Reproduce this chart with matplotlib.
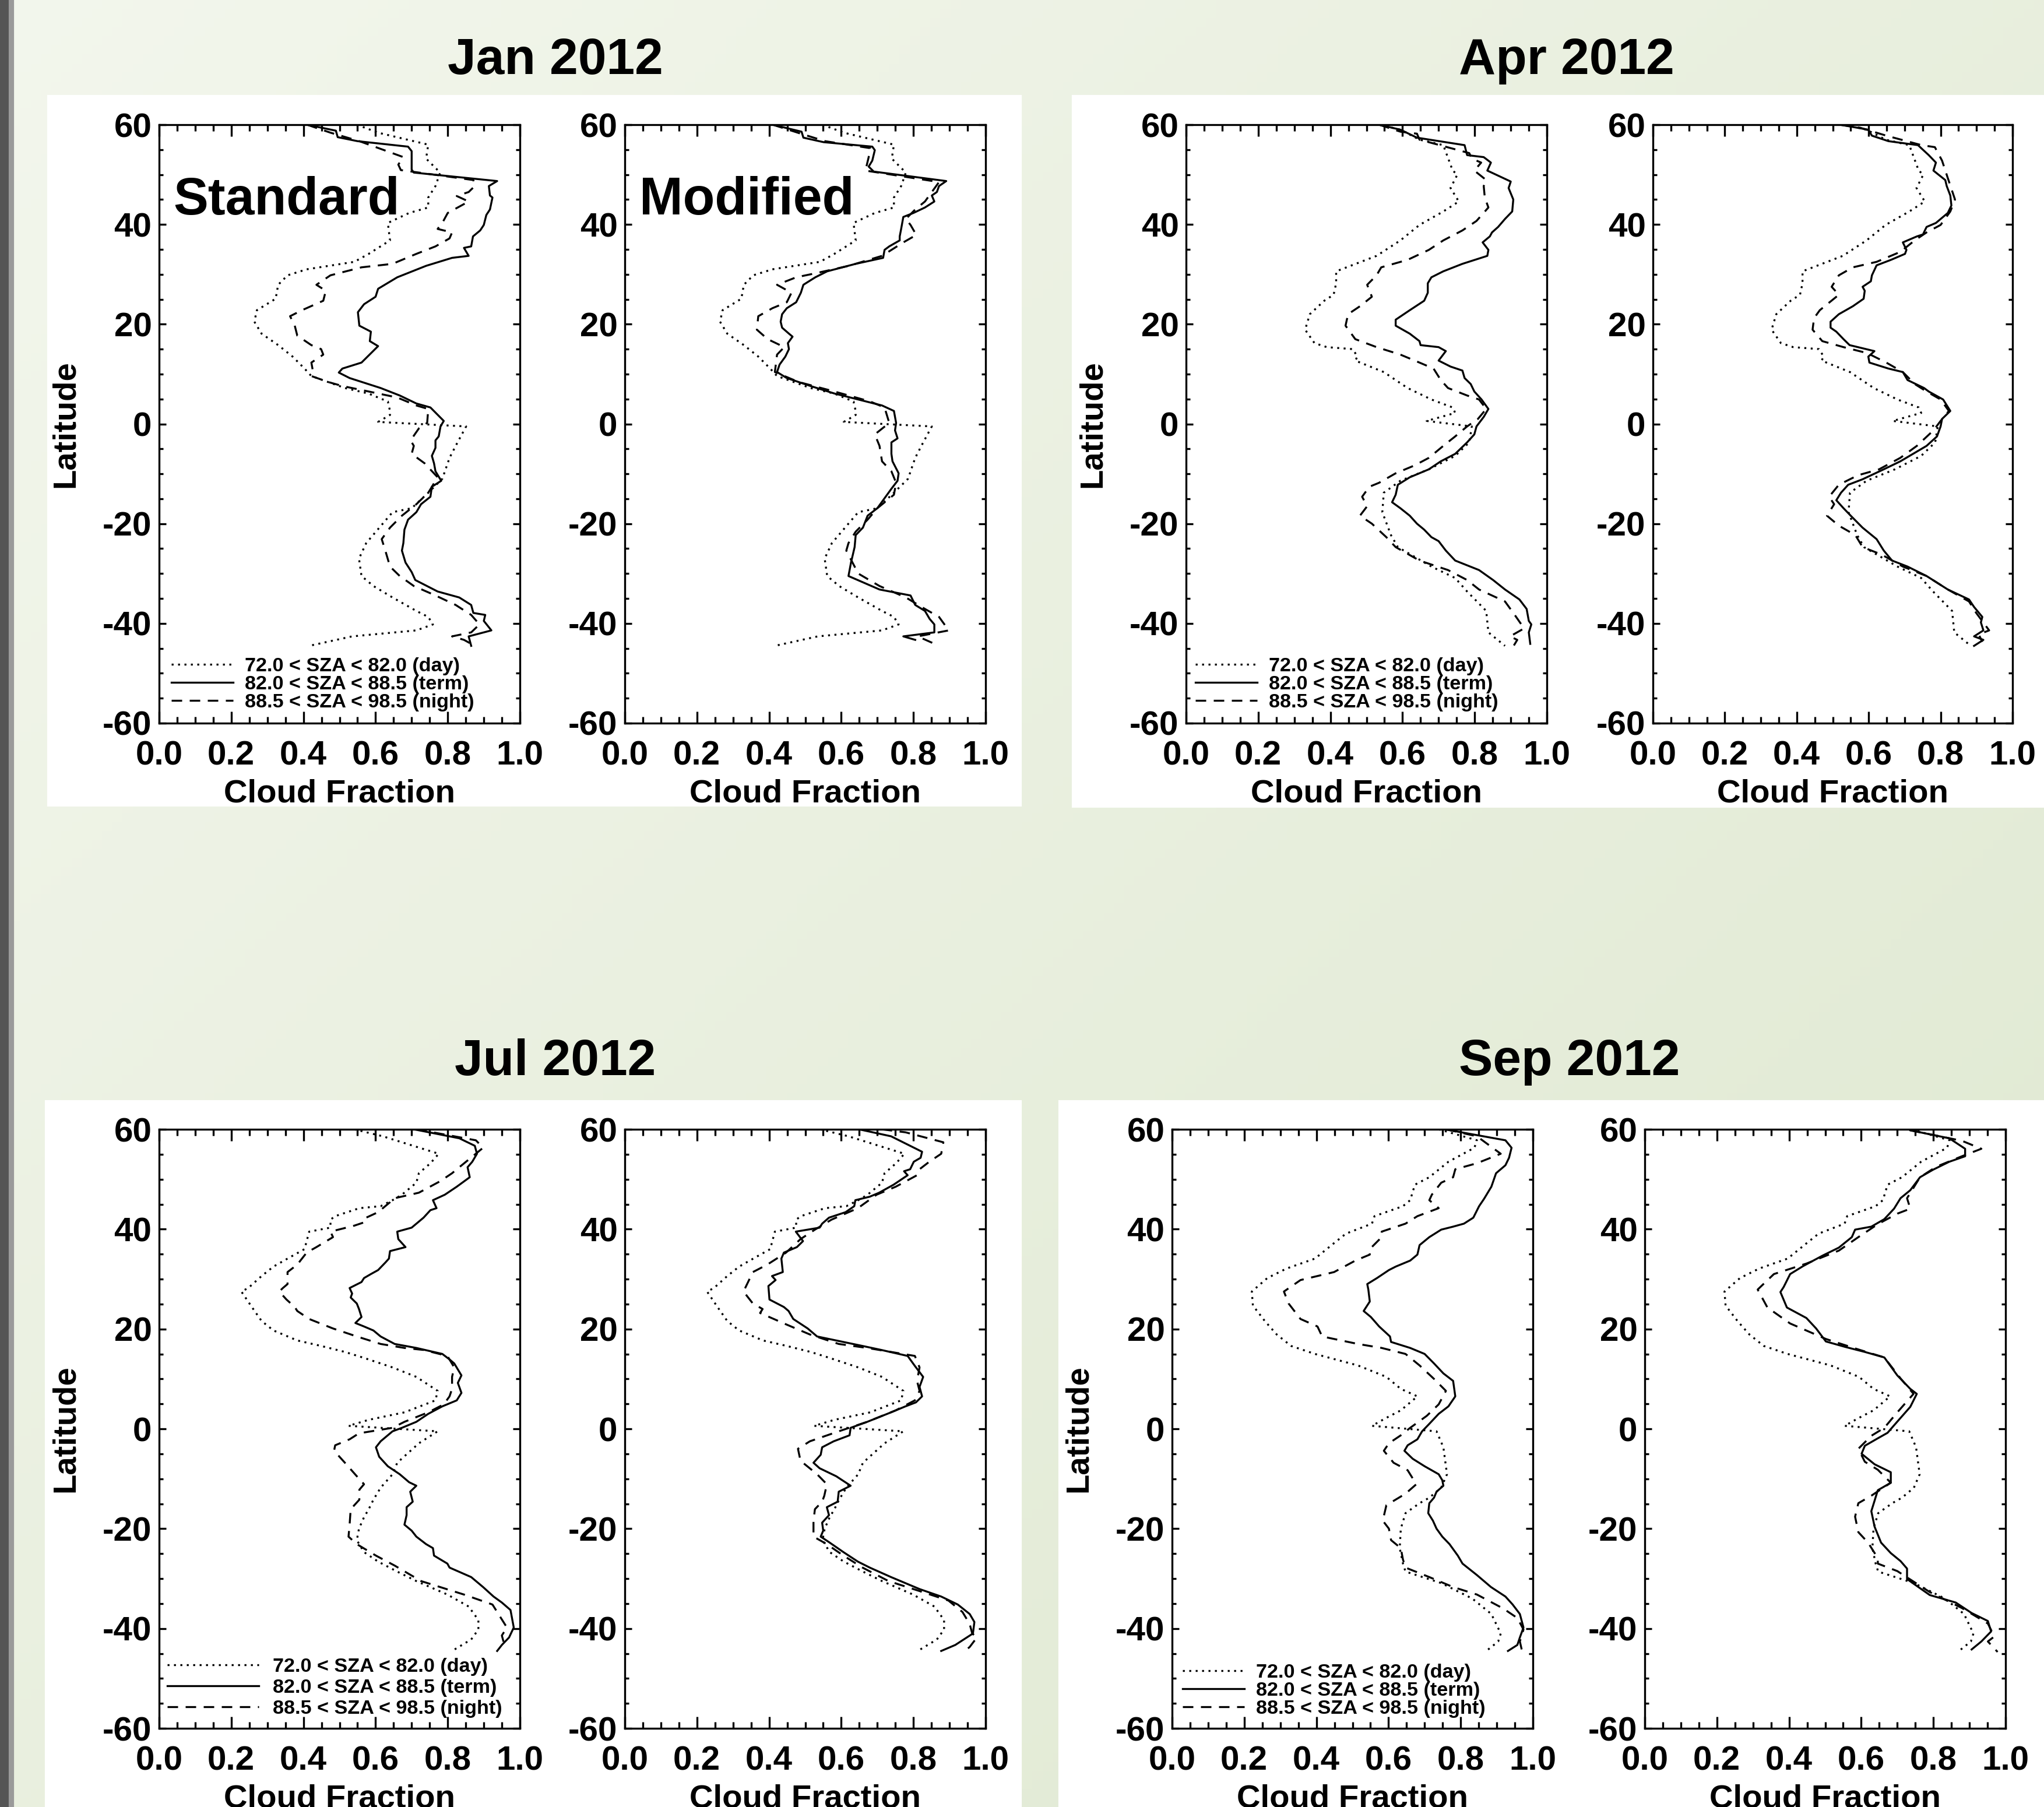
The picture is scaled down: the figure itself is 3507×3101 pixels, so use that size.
import numpy as np
import matplotlib
matplotlib.use('Agg')
import matplotlib.pyplot as plt
from matplotlib.patches import Rectangle
from matplotlib.lines import Line2D
from matplotlib.ticker import MultipleLocator, FormatStrFormatter

# ---------------- DATA (latitude, cloud fraction) ----------------
series_labels = ["72.0 < SZA < 82.0 (day)", "82.0 < SZA < 88.5 (term)", "88.5 < SZA < 98.5 (night)"]
x_ticks = [0.0, 0.2, 0.4, 0.6, 0.8, 1.0]
y_ticks = [-60, -40, -20, 0, 20, 40, 60]
months = ["Jan 2012", "Apr 2012", "Jul 2012", "Sep 2012"]
algo_labels = ["Standard", "Modified"]

# ---- January ----
jan_day_lat = [60, 58.4, 56, 53.2, 50.4, 47.7, 45.4, 43.4, 42.3, 40.3, 36.8, 34.1, 32.5, 31, 29.8, 27.9, 25.1, 22.8, 20.5, 18.1,
               15.8, 13.5, 11.1, 9.6, 7.2, 6.1, 4.5, 2.6, 1.8, 0.4, -0.5, -4.0, -6.8, -11, -13.8, -16.9, -17.7, -21.6, -23.9, -27,
               -30.5, -32.5, -34.8, -37.5, -38.7, -40.2, -41.4, -42.6, -44.5]
jan_day_cf = [0.548, 0.607, 0.746, 0.74, 0.779, 0.766, 0.746, 0.746, 0.693, 0.634, 0.64, 0.581, 0.541, 0.409, 0.356, 0.33, 0.323, 0.271, 0.264, 0.284,
              0.33, 0.37, 0.403, 0.422, 0.515, 0.58, 0.634, 0.64, 0.64, 0.607, 0.851, 0.825, 0.805, 0.785, 0.746, 0.70, 0.647, 0.601, 0.574, 0.554,
              0.561, 0.594, 0.647, 0.713, 0.746, 0.759, 0.713, 0.535, 0.416]

jan_std_term_lat = [60, 58.8, 57.5, 56.7, 55.6, 54.7, 51, 50.4, 48.7, 47.7, 45.8, 45.4, 43, 41.9, 39.9, 38.8, 37.6, 35.6, 35.3, 33.7,
                    33.3, 31.7, 29.4, 27.1, 25.5, 24, 22.4, 19.7, 18.5, 16.6, 15.6, 12.3, 11.1, 10.3, 9.2, 7.2, 5.7, 4.1, 3.3, 0.6,
                    -0.5, -2.5, -3.3, -4.8, -6.4, -7.9, -9.5, -11.4, -12.6, -14.6, -16.1, -17.7, -19.2, -21.2, -23.9, -25.4, -27.8, -29.7, -31.3, -33.6,
                    -34.8, -36.3, -37.9, -38.3, -39.5, -41.4, -42.6, -44.5]
jan_std_term_cf = [0.41, 0.49, 0.495, 0.55, 0.69, 0.70, 0.70, 0.706, 0.937, 0.914, 0.917, 0.924, 0.917, 0.907, 0.90, 0.89, 0.87, 0.865, 0.845, 0.858,
                   0.812, 0.74, 0.66, 0.607, 0.60, 0.568, 0.551, 0.555, 0.587, 0.584, 0.607, 0.561, 0.508, 0.498, 0.528, 0.614, 0.667, 0.713, 0.752, 0.789,
                   0.78, 0.775, 0.766, 0.766, 0.756, 0.762, 0.766, 0.782, 0.756, 0.752, 0.726, 0.713, 0.69, 0.68, 0.677, 0.673, 0.683, 0.70, 0.71, 0.772,
                   0.832, 0.865, 0.871, 0.904, 0.90, 0.921, 0.858, 0.865]

jan_std_night_lat = [60, 58.4, 56.7, 53.5, 52, 50.9, 48.9, 47.7, 46.5, 45.7, 44.6, 42.3, 40.3, 39.1, 38.4, 37.2, 35.6, 34.1, 32.1, 31.4,
                     29.8, 27.9, 26.7, 24.7, 22.8, 21.6, 19.7, 17.7, 15.8, 15, 13.9, 12.3, 10.7, 9.6, 8.4, 7.6, 6.5, 5.3, 3.7, 3.0,
                     0.2, -0.9, -3.3, -4.4, -6.0, -7.9, -10.7, -13.8, -16.1, -18.4, -20.8, -23.1, -25.4, -28.6, -30.5, -32.5, -34.4, -36.3, -38.3, -40.2,
                     -41.8, -42.6, -43.3, -44.1]
jan_std_night_cf = [0.41, 0.475, 0.555, 0.677, 0.663, 0.67, 0.871, 0.875, 0.858, 0.825, 0.858, 0.80, 0.785, 0.772, 0.812, 0.805, 0.766, 0.713, 0.647, 0.561,
                    0.475, 0.436, 0.462, 0.455, 0.396, 0.363, 0.376, 0.383, 0.422, 0.449, 0.455, 0.422, 0.426, 0.422, 0.469, 0.508, 0.581, 0.66, 0.713, 0.746,
                    0.743, 0.72, 0.697, 0.706, 0.70, 0.736, 0.772, 0.746, 0.713, 0.673, 0.64, 0.617, 0.627, 0.64, 0.667, 0.706, 0.766, 0.822, 0.865, 0.888,
                    0.865, 0.812, 0.845, 0.865]

jan_mod_term_lat = [60, 58.6, 57.4, 56.5, 55.6, 54.9, 52.8, 51.6, 50.6, 48.7, 47.7, 46.5, 45.8, 44.6, 43.4, 42.3, 41.5, 39.1, 37.6, 36.8,
                    35.6, 34.9, 33.3, 32.1, 30.6, 29.4, 27.9, 26.3, 24.4, 23.2, 22, 20.5, 19.3, 18.1, 17.5, 16.2, 15, 13.5, 11.9, 10.4,
                    9.2, 7.6, 6.1, 4.9, 3.7, 2.6, 0.2, -1.3, -2.9, -3.7, -6.0, -7.5, -9.9, -11.4, -13.0, -14.9, -16.9, -18.4, -20.8, -22.3,
                    -24.7, -27.8, -30.5, -33.2, -34.4, -36.3, -37.5, -39.1, -40.2, -41.8, -42.6, -43.3]
jan_mod_term_cf = [0.41, 0.49, 0.495, 0.551, 0.686, 0.693, 0.686, 0.676, 0.69, 0.891, 0.871, 0.865, 0.851, 0.858, 0.832, 0.80, 0.772, 0.766, 0.762, 0.762,
                   0.733, 0.72, 0.716, 0.64, 0.561, 0.528, 0.495, 0.488, 0.475, 0.449, 0.436, 0.432, 0.436, 0.455, 0.465, 0.452, 0.455, 0.445, 0.429, 0.422,
                   0.449, 0.515, 0.581, 0.647, 0.713, 0.746, 0.752, 0.749, 0.756, 0.739, 0.739, 0.742, 0.759, 0.756, 0.739, 0.72, 0.70, 0.673, 0.66, 0.64,
                   0.637, 0.627, 0.62, 0.706, 0.792, 0.805, 0.832, 0.845, 0.858, 0.858, 0.772, 0.805]

jan_mod_night_lat = [60, 58.2, 56.7, 55.3, 53.5, 50.8, 48.5, 46.5, 44.6, 43.0, 41.1, 39.9, 37.9, 36.4, 33.7, 31.7, 30.2, 29.4, 27.9, 26.3,
                     24.4, 23.2, 21.6, 18.9, 17.0, 15.4, 13.9, 10.4, 8.4, 6.5, 4.5, 3.3, 0.2, -2.1, -4.4, -7.5, -9.5, -11.8, -14.2, -16.9,
                     -19.2, -21.6, -23.9, -25.4, -30.0, -32.5, -34.8, -37.1, -38.7, -41.4, -42.6, -44.5]
jan_mod_night_cf = [0.41, 0.488, 0.555, 0.68, 0.676, 0.667, 0.871, 0.851, 0.832, 0.805, 0.779, 0.792, 0.808, 0.772, 0.713, 0.621, 0.528, 0.475, 0.422, 0.462,
                    0.449, 0.409, 0.37, 0.366, 0.396, 0.442, 0.422, 0.416, 0.482, 0.581, 0.68, 0.72, 0.733, 0.693, 0.706, 0.713, 0.739, 0.752, 0.746, 0.70,
                    0.673, 0.64, 0.62, 0.614, 0.647, 0.706, 0.779, 0.832, 0.871, 0.898, 0.812, 0.871]

# ---- April ----
apr_day_lat = [60, 59, 57, 55.9, 50.8, 50, 47.3, 44.6, 42.6, 39.9, 36.8, 33.7, 30.6, 28.2, 25.9, 24.7, 22.0, 18.9, 16.2, 15.4,
               15.0, 13.5, 12.7, 10.4, 7.2, 4.9, 3.3, 2.2, 0.6, -0.5, -3.7, -6.4, -9.1, -11.4, -13.8, -17.7, -22.3, -24.7, -28.6, -30.9,
               -33.6, -37.5, -41.8, -44.5]
apr_day_cf = [0.535, 0.594, 0.647, 0.713, 0.739, 0.752, 0.733, 0.756, 0.713, 0.647, 0.594, 0.528, 0.416, 0.416, 0.409, 0.383, 0.343, 0.33, 0.356, 0.39,
              0.462, 0.475, 0.469, 0.548, 0.614, 0.68, 0.739, 0.746, 0.667, 0.792, 0.785, 0.746, 0.673, 0.594, 0.548, 0.544, 0.568, 0.587, 0.68, 0.746,
              0.779, 0.832, 0.838, 0.884]

apr_std_term_lat = [60, 59, 57.4, 55.9, 53.9, 53.5, 52.4, 50.8, 48.6, 47.3, 45, 42.6, 41.1, 39.5, 38.4, 37.6, 36.4, 34.9, 33.7, 32.1,
                    30.6, 29.4, 28.2, 26.3, 24.7, 22.8, 20.9, 19.7, 18.1, 16.6, 15.8, 15.4, 14.6, 12.7, 11.5, 10.7, 9.2, 8.0, 6.5, 4.9,
                    3.0, 1.4, -0.5, -2.1, -3.7, -6.0, -7.5, -9.1, -10.7, -12.2, -14.2, -15.7, -16.9, -18.4, -20, -21.2, -22.7, -23.5, -25.4, -27.4,
                    -29.3, -31.3, -33.2, -35.2, -37.1, -39.5, -40.2, -41.8, -44.1]
apr_std_term_cf = [0.535, 0.594, 0.64, 0.772, 0.779, 0.825, 0.845, 0.835, 0.90, 0.894, 0.907, 0.904, 0.884, 0.865, 0.848, 0.842, 0.822, 0.838, 0.835, 0.766,
                   0.713, 0.68, 0.67, 0.67, 0.66, 0.62, 0.581, 0.581, 0.62, 0.647, 0.65, 0.70, 0.72, 0.70, 0.733, 0.766, 0.772, 0.789, 0.799, 0.819,
                   0.838, 0.825, 0.805, 0.799, 0.779, 0.746, 0.706, 0.673, 0.62, 0.587, 0.581, 0.571, 0.594, 0.62, 0.64, 0.66, 0.68, 0.70, 0.72, 0.746,
                   0.812, 0.851, 0.884, 0.924, 0.944, 0.95, 0.957, 0.95, 0.954]

apr_std_night_lat = [60, 58.6, 58.2, 57, 54.3, 53.2, 52.4, 50.8, 48.9, 47.7, 45.4, 43.4, 40.7, 38.8, 36.8, 34.9, 32.9, 31.4, 29.8, 27.9,
                     25.5, 23.6, 22.0, 19.7, 17.0, 15.4, 13.9, 12.3, 11.1, 8.8, 7.2, 5.7, 4.9, 3.0, 1.0, -0.5, -2.5, -4.4, -6.8, -8.3,
                     -9.9, -11.8, -12.6, -14.6, -16.5, -18.4, -20.0, -22.7, -24.7, -27.4, -29.3, -31.3, -33.2, -35.6, -38.3, -41.0, -42.6, -43.3, -44.5]
apr_std_night_cf = [0.535, 0.594, 0.64, 0.647, 0.785, 0.792, 0.818, 0.799, 0.832, 0.825, 0.828, 0.838, 0.805, 0.766, 0.713, 0.673, 0.614, 0.541, 0.528, 0.502,
                    0.515, 0.482, 0.449, 0.442, 0.469, 0.528, 0.594, 0.647, 0.686, 0.706, 0.726, 0.779, 0.812, 0.832, 0.809, 0.779, 0.746, 0.713, 0.673, 0.634,
                    0.581, 0.535, 0.508, 0.488, 0.502, 0.482, 0.515, 0.555, 0.581, 0.647, 0.726, 0.779, 0.812, 0.884, 0.911, 0.937, 0.898, 0.918, 0.908]

apr_mod_term_lat = [60, 59, 57.8, 56.7, 55.9, 53.9, 52.4, 50.8, 48.9, 47.7, 45.8, 43.8, 42.3, 40.3, 39.5, 38.0, 37.6, 36.4, 34.9, 34.1,
                    32.9, 31.8, 29.8, 28.6, 27.5, 26.7, 25.1, 23.6, 22.0, 20.5, 19.3, 18.5, 17.0, 15.8, 14.6, 13.5, 12.3, 11.1, 10.4, 8.8,
                    7.2, 6.5, 4.9, 2.6, 1.0, -0.5, -2.5, -4.4, -7.5, -9.1, -11.1, -12.2, -13.8, -15.3, -16.9, -18.4, -20.8, -23.1, -25.4, -27.4,
                    -28.6, -30.5, -33.2, -35.2, -36.7, -38.7, -39.8, -41.4, -42.6, -43.3, -44.5]
apr_mod_term_cf = [0.52, 0.599, 0.609, 0.655, 0.737, 0.767, 0.787, 0.78, 0.813, 0.817, 0.827, 0.83, 0.82, 0.787, 0.761, 0.751, 0.734, 0.695, 0.705, 0.701,
                   0.662, 0.622, 0.609, 0.606, 0.583, 0.589, 0.586, 0.556, 0.517, 0.494, 0.494, 0.51, 0.53, 0.547, 0.616, 0.599, 0.602, 0.655, 0.695, 0.708,
                   0.754, 0.767, 0.807, 0.827, 0.804, 0.80, 0.79, 0.761, 0.688, 0.642, 0.583, 0.543, 0.523, 0.51, 0.53, 0.55, 0.583, 0.622, 0.642, 0.665,
                   0.708, 0.761, 0.82, 0.879, 0.893, 0.916, 0.912, 0.919, 0.893, 0.919, 0.893]

apr_mod_night_lat = [60, 59.4, 57.8, 55.9, 55.5, 52.8, 49.3, 45.0, 42.6, 39.9, 38.4, 36.8, 34.5, 32.5, 31.4, 29.8, 27.5, 25.9, 22.8, 21.2,
                     18.9, 16.6, 15.4, 14.2, 12.3, 10.4, 8.0, 6.5, 4.9, 2.6, 0.6, -1.3, -4.4, -6.8, -9.1, -10.3, -12.2, -14.6, -16.1, -18.4,
                     -20.4, -22.3, -24.7, -26.2, -28.6, -30.5, -33.2, -35.6, -37.9, -41.4, -42.2, -43.7]
apr_mod_night_cf = [0.52, 0.576, 0.649, 0.747, 0.784, 0.804, 0.82, 0.84, 0.827, 0.80, 0.761, 0.728, 0.688, 0.622, 0.556, 0.517, 0.497, 0.517, 0.464, 0.448,
                    0.444, 0.471, 0.53, 0.596, 0.649, 0.695, 0.728, 0.761, 0.80, 0.823, 0.80, 0.78, 0.734, 0.688, 0.629, 0.57, 0.517, 0.49, 0.504, 0.484,
                    0.517, 0.563, 0.583, 0.636, 0.695, 0.761, 0.82, 0.879, 0.899, 0.935, 0.906, 0.916]

# ---- July ----
jul_day_lat = [60, 58.6, 55.1, 53.2, 51.2, 49.3, 46.9, 45.8, 44.6, 44.2, 42.6, 41.9, 40.3, 39.5, 37.6, 36.0, 34.1, 32.5, 30.6, 28.2,
               27.5, 24.4, 21.6, 19.7, 17.7, 16.6, 15.4, 14.2, 12.3, 10.4, 7.6, 5.7, 3.3, 1.8, 0.6, -0.5, -2.9, -6.8, -9.1, -11.8,
               -14.2, -16.1, -17.7, -20.0, -22.3, -24.7, -26.6, -28.6, -30.5, -33.2, -35.6, -38.3, -40.2, -42.2, -44.5]
jul_day_cf = [0.541, 0.62, 0.775, 0.752, 0.72, 0.713, 0.673, 0.647, 0.614, 0.555, 0.488, 0.475, 0.475, 0.416, 0.409, 0.403, 0.356, 0.317, 0.284, 0.247,
              0.228, 0.257, 0.284, 0.317, 0.383, 0.449, 0.515, 0.568, 0.647, 0.713, 0.772, 0.766, 0.68, 0.581, 0.525, 0.772, 0.72, 0.66, 0.647, 0.614,
              0.594, 0.581, 0.568, 0.554, 0.548, 0.568, 0.607, 0.66, 0.713, 0.799, 0.858, 0.885, 0.885, 0.865, 0.812]

jul_std_term_lat = [60, 58.2, 56.7, 55.1, 53.5, 52.4, 50.4, 48.5, 46.9, 45.8, 44.2, 43.8, 42.3, 40.3, 39.5, 38.0, 36.4, 35.6, 34.1, 33.3,
                    31.8, 31.0, 30.2, 29.4, 28.2, 27.1, 26.3, 25.1, 24.0, 22.4, 21.2, 20.5, 19.7, 18.5, 17.0, 16.2, 15.0, 13.9, 13.1, 10.7,
                    9.2, 7.2, 5.7, 4.5, 3.0, 1.4, 0.2, -0.5, -2.5, -3.7, -5.6, -7.5, -9.1, -10.7, -11.4, -12.6, -14.6, -15.7, -17.3, -19.2,
                    -20.4, -21.6, -23.1, -23.9, -25.4, -27.0, -27.8, -29.7, -31.7, -33.6, -34.8, -36.3, -39.8, -41.8, -43.3, -44.5]
jul_std_term_cf = [0.706, 0.832, 0.875, 0.881, 0.868, 0.855, 0.861, 0.825, 0.792, 0.759, 0.769, 0.752, 0.733, 0.70, 0.66, 0.663, 0.683, 0.64, 0.637, 0.627,
                   0.607, 0.587, 0.568, 0.561, 0.528, 0.535, 0.531, 0.548, 0.554, 0.561, 0.544, 0.568, 0.594, 0.614, 0.653, 0.713, 0.785, 0.805, 0.818, 0.838,
                   0.828, 0.838, 0.825, 0.785, 0.746, 0.713, 0.673, 0.647, 0.614, 0.601, 0.61, 0.634, 0.667, 0.693, 0.713, 0.696, 0.703, 0.686, 0.686, 0.68,
                   0.70, 0.713, 0.74, 0.759, 0.762, 0.799, 0.805, 0.865, 0.898, 0.927, 0.95, 0.974, 0.983, 0.97, 0.95, 0.937]

jul_std_night_lat = [60, 57.8, 56.3, 54.7, 52.4, 51.2, 49.6, 47.3, 46.1, 45.4, 43.4, 42.3, 41.5, 40.7, 39.5, 38.4, 36.4, 35.3, 32.9, 31.4,
                     29.0, 28.2, 27.5, 25.9, 24.4, 23.6, 22.0, 20.1, 18.5, 17.0, 16.2, 15.8, 14.6, 12.3, 10.4, 8.0, 6.5, 4.9, 3.3, 1.4,
                     0.2, -0.9, -2.1, -3.3, -4.4, -6.8, -9.5, -11.1, -12.2, -14.2, -16.1, -19.2, -21.6, -23.1, -25.4, -27.4, -30.5, -31.7, -33.2, -35.2,
                     -37.5, -39.8, -41.4, -43.3]
jul_std_night_cf = [0.713, 0.878, 0.898, 0.871, 0.832, 0.812, 0.779, 0.72, 0.647, 0.64, 0.607, 0.574, 0.574, 0.541, 0.475, 0.482, 0.436, 0.409, 0.383, 0.356,
                    0.356, 0.343, 0.333, 0.353, 0.376, 0.383, 0.416, 0.482, 0.548, 0.614, 0.68, 0.733, 0.799, 0.818, 0.812, 0.812, 0.805, 0.789, 0.746, 0.68,
                    0.647, 0.554, 0.528, 0.488, 0.485, 0.515, 0.548, 0.568, 0.555, 0.555, 0.531, 0.528, 0.525, 0.548, 0.601, 0.653, 0.726, 0.779, 0.845, 0.924,
                    0.944, 0.964, 0.95, 0.957]

jul_mod_term_lat = [60, 58.6, 55.5, 54.3, 53.5, 52.0, 51.6, 50.8, 48.9, 47.3, 46.5, 45.8, 44.6, 43.4, 42.3, 41.1, 40.3, 39.5, 37.6, 36.4,
                    35.3, 34.1, 31.4, 30.6, 29.8, 28.6, 25.9, 24.4, 23.6, 22.0, 20.1, 18.5, 16.6, 15.8, 14.6, 12.6, 10.4, 8.4, 6.5, 5.3,
                    4.5, 3.3, 1.4, 0.2, -1.3, -2.5, -3.7, -5.2, -6.8, -7.9, -9.5, -11.4, -12.6, -14.6, -15.7, -17.3, -18.8, -20.4, -21.6, -22.7,
                    -24.7, -26.6, -27.8, -29.7, -32.1, -33.6, -35.2, -37.1, -38.7, -41.0, -43.3, -44.5]
jul_mod_term_cf = [0.649, 0.738, 0.824, 0.82, 0.801, 0.791, 0.774, 0.784, 0.745, 0.705, 0.679, 0.639, 0.636, 0.612, 0.566, 0.547, 0.54, 0.474, 0.494, 0.477,
                   0.441, 0.434, 0.438, 0.408, 0.418, 0.398, 0.401, 0.441, 0.454, 0.467, 0.507, 0.533, 0.659, 0.711, 0.784, 0.804, 0.827, 0.817, 0.824, 0.807,
                   0.778, 0.738, 0.672, 0.626, 0.623, 0.579, 0.547, 0.543, 0.523, 0.54, 0.586, 0.626, 0.593, 0.59, 0.56, 0.566, 0.547, 0.55, 0.543, 0.566,
                   0.606, 0.646, 0.679, 0.738, 0.817, 0.877, 0.923, 0.956, 0.969, 0.965, 0.916, 0.877]

jul_mod_night_lat = [60, 59.4, 57.4, 55.1, 53.5, 52.0, 50.8, 48.5, 46.9, 44.2, 41.9, 39.9, 38.0, 35.3, 32.9, 31.4, 27.5, 25.1, 24.0, 23.2,
                     20.9, 18.9, 17.0, 16.2, 14.6, 12.3, 9.6, 7.6, 5.7, 3.7, 1.4, -0.5, -2.5, -4.0, -6.4, -9.1, -11.1, -13.4, -14.6, -16.1,
                     -18.4, -21.6, -23.1, -25.4, -27.8, -30.5, -32.5, -34.4, -36.7, -39.1, -41.0, -41.8, -43.7, -44.9]
jul_mod_night_cf = [0.712, 0.778, 0.883, 0.877, 0.844, 0.817, 0.81, 0.751, 0.698, 0.646, 0.573, 0.527, 0.487, 0.447, 0.395, 0.355, 0.329, 0.355, 0.382, 0.375,
                    0.448, 0.513, 0.593, 0.672, 0.804, 0.817, 0.81, 0.817, 0.804, 0.751, 0.672, 0.593, 0.513, 0.48, 0.487, 0.533, 0.56, 0.553, 0.547, 0.527,
                    0.523, 0.523, 0.56, 0.606, 0.659, 0.731, 0.817, 0.897, 0.936, 0.956, 0.963, 0.976, 0.956, 0.936]

# ---- September ----
sep_day_lat = [60, 57.8, 56.3, 53.5, 50.4, 48.9, 45.8, 44.6, 42.6, 41.1, 39.1, 37.2, 34.1, 32.1, 30.2, 27.5, 24.7, 21.6, 18.9, 16.6,
               15.0, 12.7, 10.4, 8.0, 6.5, 3.7, 2.2, 0.6, -0.5, -3.7, -9.1, -11.8, -13.8, -14.9, -16.9, -20.0, -23.9, -27.0, -28.6, -30.9,
               -34.0, -37.1, -41.0, -42.6, -44.5]
sep_day_cf = [0.739, 0.845, 0.838, 0.766, 0.713, 0.673, 0.66, 0.64, 0.561, 0.554, 0.482, 0.449, 0.396, 0.317, 0.264, 0.221, 0.224, 0.257, 0.29, 0.33,
              0.396, 0.515, 0.594, 0.634, 0.68, 0.634, 0.594, 0.554, 0.733, 0.752, 0.762, 0.746, 0.713, 0.686, 0.647, 0.634, 0.631, 0.64, 0.647, 0.746,
              0.832, 0.885, 0.911, 0.904, 0.871]

sep_std_term_lat = [60, 57.8, 56.3, 54.3, 52.8, 51.2, 48.5, 46.1, 44.6, 42.3, 41.1, 40.5, 39.9, 38.4, 36.8, 34.9, 33.7, 32.5, 31.8, 30.2,
                    29.0, 27.9, 25.5, 23.6, 22.4, 20.5, 18.5, 17.4, 16.2, 15.0, 13.1, 11.1, 9.6, 6.5, 4.5, 3.0, 1.0, -0.5, -2.1, -3.3,
                    -4.4, -6.0, -7.5, -9.1, -10.3, -11.4, -12.6, -13.8, -14.9, -16.9, -18.4, -20.0, -21.6, -23.1, -25.4, -27.0, -29.3, -31.7, -33.6, -35.2,
                    -37.1, -39.8, -41.8, -43.3, -44.5]
sep_std_term_cf = [0.756, 0.924, 0.941, 0.934, 0.924, 0.898, 0.885, 0.865, 0.851, 0.835, 0.809, 0.779, 0.746, 0.713, 0.686, 0.68, 0.66, 0.62, 0.601, 0.568,
                   0.541, 0.544, 0.548, 0.531, 0.551, 0.574, 0.604, 0.607, 0.66, 0.70, 0.726, 0.752, 0.779, 0.785, 0.766, 0.739, 0.713, 0.693, 0.68, 0.653,
                   0.644, 0.667, 0.70, 0.739, 0.749, 0.752, 0.733, 0.726, 0.713, 0.71, 0.723, 0.733, 0.749, 0.769, 0.792, 0.805, 0.845, 0.884, 0.924, 0.944,
                   0.964, 0.974, 0.964, 0.957, 0.931]

sep_std_night_lat = [60, 58.6, 55.1, 53.2, 52.0, 50.4, 49.3, 46.9, 45.8, 44.2, 42.6, 41.1, 39.5, 38.4, 36.0, 34.9, 33.7, 31.4, 29.8, 27.5,
                     25.1, 22.0, 20.5, 18.5, 17.0, 16.2, 15.0, 12.7, 10.0, 7.6, 4.9, 2.6, 0.2, -1.3, -2.9, -4.4, -6.8, -8.3, -11.1, -13.0,
                     -15.3, -18.4, -20.0, -22.3, -23.9, -26.2, -27.8, -29.7, -31.7, -33.2, -36.0, -37.9, -40.2, -42.6, -44.5]
sep_std_night_cf = [0.759, 0.845, 0.911, 0.845, 0.785, 0.779, 0.746, 0.72, 0.713, 0.739, 0.68, 0.647, 0.581, 0.581, 0.548, 0.548, 0.508, 0.449, 0.356, 0.31,
                    0.323, 0.356, 0.403, 0.416, 0.515, 0.581, 0.647, 0.686, 0.726, 0.759, 0.739, 0.706, 0.66, 0.634, 0.601, 0.587, 0.614, 0.653, 0.677, 0.647,
                    0.594, 0.584, 0.601, 0.607, 0.634, 0.64, 0.647, 0.713, 0.779, 0.845, 0.918, 0.957, 0.974, 0.964, 0.97]

sep_mod_term_lat = [59.8, 58.2, 56.1, 54.6, 53.5, 51.9, 50.4, 47.8, 46.2, 44.1, 42.0, 40.5, 39.9, 38.4, 36.3, 34.7, 32.6, 31.0, 28.4, 27.4,
                    24.3, 22.2, 20.1, 17.5, 16.4, 15.4, 14.3, 10.7, 8.0, 7.0, 4.4, 0.7, -0.8, -1.9, -3.4, -5.0, -7.1, -8.7, -10.8, -12.3,
                    -14.4, -16.5, -19.6, -22.8, -24.9, -26.5, -28.0, -30.1, -33.3, -34.8, -36.9, -38.5, -40.6, -42.6, -44.2]
sep_mod_term_cf = [0.736, 0.844, 0.888, 0.888, 0.844, 0.799, 0.763, 0.736, 0.709, 0.691, 0.664, 0.628, 0.583, 0.574, 0.538, 0.493, 0.439, 0.403, 0.385, 0.376,
                   0.394, 0.448, 0.475, 0.502, 0.556, 0.61, 0.664, 0.70, 0.736, 0.754, 0.736, 0.691, 0.673, 0.646, 0.61, 0.601, 0.637, 0.682, 0.682, 0.646,
                   0.637, 0.628, 0.637, 0.655, 0.682, 0.709, 0.727, 0.727, 0.79, 0.862, 0.906, 0.951, 0.96, 0.933, 0.906]

sep_mod_night_lat = [59.8, 57.7, 56.1, 54.6, 52.5, 50.4, 46.2, 44.1, 43.1, 41.0, 38.4, 35.7, 33.1, 31.0, 27.9, 24.3, 21.1, 18.0, 15.9, 14.3,
                     10.1, 7.0, 3.3, 0.2, -1.4, -4.0, -6.6, -8.2, -10.8, -13.4, -14.9, -17.6, -20.7, -22.8, -25.9, -27.0, -28.5, -32.7, -35.9, -39.0,
                     -41.6, -42.6, -44.7]
sep_mod_night_cf = [0.736, 0.879, 0.933, 0.879, 0.808, 0.763, 0.727, 0.736, 0.70, 0.646, 0.592, 0.538, 0.448, 0.358, 0.313, 0.34, 0.403, 0.502, 0.592, 0.664,
                    0.709, 0.745, 0.70, 0.664, 0.628, 0.592, 0.61, 0.646, 0.682, 0.628, 0.592, 0.583, 0.592, 0.619, 0.646, 0.646, 0.70, 0.79, 0.879, 0.951,
                    0.969, 0.951, 0.978]

# ---------------- LAYOUT / STYLE ----------------
W, H, DPI = 3507, 3101, 300
plt.rcParams['font.family'] = ['Liberation Sans', 'DejaVu Sans']
plt.rcParams['font.weight'] = 'bold'
plt.rcParams['axes.unicode_minus'] = False

line_styles = [
    dict(color='black', lw=0.8, linestyle=(0, (1.0, 2.3))),   # day (dotted)
    dict(color='black', lw=0.8, linestyle='-'),               # term (solid)
    dict(color='black', lw=0.8, linestyle=(0, (5.4, 3.9))),   # night (dashed)
]

fig = plt.figure(figsize=(W / DPI, H / DPI), dpi=DPI)

# background gradient + left bar + white boxes
bg = fig.add_axes([0, 0, 1, 1], zorder=-10)
yy, xx = np.mgrid[0:1:200j, 0:1:200j]
t = np.clip(0.12 + 0.42 * xx + 0.38 * yy, 0, 1)[..., None]
light = np.array([0.965, 0.975, 0.945])
dark = np.array([0.865, 0.905, 0.805])
bg.imshow(light * (1 - t) + dark * t, extent=[0, 1, 0, 1], aspect='auto', origin='upper')
bg.set_xlim(0, 1)
bg.set_ylim(0, 1)
bg.set_axis_off()
bg.add_patch(Rectangle((0, 0), 17 / W, 1, color='#555555', transform=bg.transAxes))
bg.add_patch(Rectangle((17 / W, 0), 5 / W, 1, color='#9a9a9a', transform=bg.transAxes))


def fbox(l, t_, r, b):
    return (l / W, 1 - b / H), (r - l) / W, (b - t_) / H


white_boxes = [(83, 165, 1751, 1382), (1841, 165, 3507, 1384), (79, 1890, 1751, 3101), (1818, 1890, 3507, 3101)]
for wb in white_boxes:
    xy, w, h = fbox(*wb)
    bg.add_patch(Rectangle(xy, w, h, color='white', transform=bg.transAxes))

# legend: (x anchor, lat anchor, handlelength, handletextpad, labelspacing)
panels = [
    dict(title=months[0], title_xy=(953, 127), legend=(0.034, -46.8, 3.1, 0.59, 0.0),
         axes=[(273, 214, 892, 1241), (1072, 214, 1691, 1241)],
         data=[(jan_day_lat, jan_day_cf, jan_std_term_lat, jan_std_term_cf, jan_std_night_lat, jan_std_night_cf),
               (jan_day_lat, jan_day_cf, jan_mod_term_lat, jan_mod_term_cf, jan_mod_night_lat, jan_mod_night_cf)],
         labels=True),
    dict(title=months[1], title_xy=(2688, 127), legend=(0.026, -46.8, 3.1, 0.59, 0.0),
         axes=[(2035, 214, 2654, 1241), (2836, 214, 3453, 1241)],
         data=[(apr_day_lat, apr_day_cf, apr_std_term_lat, apr_std_term_cf, apr_std_night_lat, apr_std_night_cf),
               (apr_day_lat, apr_day_cf, apr_mod_term_lat, apr_mod_term_cf, apr_mod_night_lat, apr_mod_night_cf)],
         labels=False),
    dict(title=months[2], title_xy=(953, 1845), legend=(0.023, -45.9, 4.6, 0.70, 0.14),
         axes=[(273, 1938, 892, 2966), (1072, 1938, 1691, 2966)],
         data=[(jul_day_lat, jul_day_cf, jul_std_term_lat, jul_std_term_cf, jul_std_night_lat, jul_std_night_cf),
               (jul_day_lat, jul_day_cf, jul_mod_term_lat, jul_mod_term_cf, jul_mod_night_lat, jul_mod_night_cf)],
         labels=False),
    dict(title=months[3], title_xy=(2693, 1845), legend=(0.029, -47.0, 3.1, 0.59, 0.0),
         axes=[(2011, 1938, 2630, 2966), (2822, 1938, 3441, 2966)],
         data=[(sep_day_lat, sep_day_cf, sep_std_term_lat, sep_std_term_cf, sep_std_night_lat, sep_std_night_cf),
               (sep_day_lat, sep_day_cf, sep_mod_term_lat, sep_mod_term_cf, sep_mod_night_lat, sep_mod_night_cf)],
         labels=False),
]

for p in panels:
    tx, ty = p['title_xy']
    fig.text(tx / W, 1 - ty / H, p['title'], ha='center', va='baseline', fontsize=21, fontweight='bold')
    for k, (box, dat) in enumerate(zip(p['axes'], p['data'])):
        l, t_, r, b = box
        ax = fig.add_axes([l / W, 1 - b / H, (r - l) / W, (b - t_) / H])
        ax.set_facecolor('white')
        for j in range(3):
            ax.plot(dat[2 * j + 1], dat[2 * j], **line_styles[j])
        ax.set_xlim(0, 1)
        ax.set_ylim(-60, 60)
        ax.set_xticks(x_ticks)
        ax.set_yticks(y_ticks)
        ax.xaxis.set_major_formatter(FormatStrFormatter('%.1f'))
        ax.yaxis.set_major_formatter(FormatStrFormatter('%d'))
        ax.xaxis.set_minor_locator(MultipleLocator(0.05))
        ax.yaxis.set_minor_locator(MultipleLocator(5))
        ax.tick_params(axis='both', which='both', direction='in', top=True, right=True, width=0.8, labelsize=14)
        ax.tick_params(axis='x', which='major', length=4.8, pad=7.0)
        ax.tick_params(axis='x', which='minor', length=2.6)
        ax.tick_params(axis='y', which='major', length=2.9, pad=3.0)
        ax.tick_params(axis='y', which='minor', length=1.7)
        for lab in ax.get_xticklabels() + ax.get_yticklabels():
            lab.set_fontweight('bold')
        for sp in ax.spines.values():
            sp.set_linewidth(0.8)
        ax.set_xlabel('Cloud Fraction', fontsize=13.5, fontweight='bold', labelpad=3)
        if k == 0:
            ax.set_ylabel('Latitude', fontsize=13.5, fontweight='bold', labelpad=9)
            lx, ly, hl, htp, ls = p['legend']
            handles = [Line2D([], [], **line_styles[j]) for j in range(3)]
            ax.legend(handles, series_labels, loc='upper left', bbox_to_anchor=(lx, ly),
                      bbox_transform=ax.transData, frameon=False, borderpad=0, borderaxespad=0,
                      handlelength=hl, handletextpad=htp, labelspacing=ls,
                      prop=dict(size=8.2, weight='bold'))
        if p['labels']:
            ax.text(0.04, 42, algo_labels[k], fontsize=21.5, fontweight='bold', ha='left', va='baseline')

fig.savefig('out.png', dpi=DPI)
